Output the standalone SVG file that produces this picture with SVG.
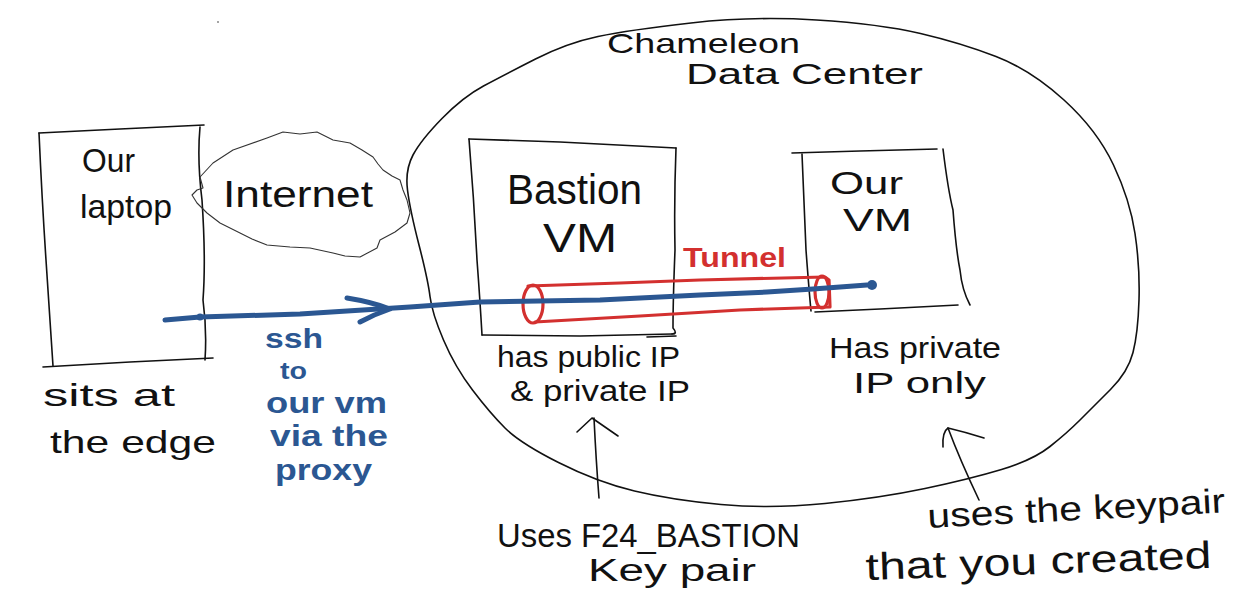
<svg xmlns="http://www.w3.org/2000/svg" width="1233" height="602" viewBox="0 0 1233 602">
<style>
.ink{fill:none;stroke:#111;stroke-width:1.6;stroke-linecap:round;stroke-linejoin:round}
.thin{fill:none;stroke:#333;stroke-width:1.1;stroke-linecap:round;stroke-linejoin:round}
.red{fill:none;stroke:#d3302f;stroke-width:3.2;stroke-linecap:round;stroke-linejoin:round}
.blue{fill:none;stroke:#2b5792;stroke-width:5;stroke-linecap:round;stroke-linejoin:round}
.t{font-family:"Liberation Sans","DejaVu Sans",sans-serif;fill:#111}
.bt{font-family:"Liberation Sans","DejaVu Sans",sans-serif;fill:#2b5792;font-weight:bold}
.rt{font-family:"Liberation Sans","DejaVu Sans",sans-serif;fill:#d3302f;font-weight:bold}
</style>
<rect width="1233" height="602" fill="#fff"/>
<circle cx="218" cy="22" r="0.8" fill="#333"/>

<g id="datacenter">
<path class="ink" d="M407.5,190 Q405,170 413,155 Q421,140 442,118.5 Q463,97 483.5,86 Q504,75 535.5,59 Q567,43 598,36.5 Q629,30 691,23 Q753,16 816.5,20 Q880,24 920.5,33.5 Q961,43 996,56.5 Q1031,70 1064,100 Q1097,130 1113.5,165 Q1130,200 1135,233.5 Q1140,267 1139,300 Q1138,333 1133,352.5 Q1128,372 1110.5,389.5 Q1093,407 1080,420 Q1067,433 1050,446.5 Q1033,460 1001.5,469.5 Q970,479 925,488.5 Q880,498 825,503.5 Q770,509 721,504.5 Q672,500 634.5,491 Q597,482 558.5,462.5 Q520,443 505,428 Q490,413 472.5,390 Q455,367 443.5,340 Q432,313 430,296.5 Q428,280 419,245 Q410,210 407.5,190 Z"/>
<text class="t" x="607" y="53" font-size="28" textLength="193" lengthAdjust="spacingAndGlyphs">Chameleon</text>
<text class="t" x="686" y="84" font-size="29" textLength="237" lengthAdjust="spacingAndGlyphs">Data Center</text>
</g>

<g id="laptop">
<path class="ink" d="M39,133 L120,129 L204,125"/>
<path class="ink" d="M39,133 Q42,200 46,260 Q50,320 53,366"/>
<path class="ink" d="M200,127 Q197,160 202,200 Q206,260 203,300 Q207,330 205,360"/>
<path class="ink" d="M43,367 L130,362 L213,358"/>
<text class="t" x="82" y="172" font-size="34" textLength="53" lengthAdjust="spacingAndGlyphs">Our</text>
<text class="t" x="80" y="218" font-size="34" textLength="92" lengthAdjust="spacingAndGlyphs">laptop</text>
<text class="t" x="43" y="406" font-size="32" textLength="132" lengthAdjust="spacingAndGlyphs">sits at</text>
<text class="t" x="50" y="453" font-size="32" textLength="166" lengthAdjust="spacingAndGlyphs">the edge</text>
</g>

<g id="internet">
<path class="thin" d="M200,177 L213,163 L233,150 L267,138 L283,132 L300,134 L317,132 L333,140 L350,143 L362,150 L373,157 L378,164 L383,170 L392,176 L400,180 L403,190 L407,200 L410,213 L407,223 L395,232 L380,240 L377,248 L360,257 L345,256 L333,253 L310,248 L290,247 L267,245 L252,239 L240,233 L220,223 L207,213 L197,203 L192,195 L197,190 L203,188 L200,177"/>
<text class="t" x="223" y="207" font-size="36" textLength="150" lengthAdjust="spacingAndGlyphs">Internet</text>
</g>

<g id="bastion">
<path class="ink" d="M469,139 L560,142 L676,148"/>
<path class="ink" d="M469,139 Q474,200 477,260 Q480,300 482,335"/>
<path class="ink" d="M676,148 Q674,200 675,250 Q673,300 673,328 Q678,334 672,334"/>
<path class="ink" d="M482,335 L580,336 L672,334"/>
<path class="ink" d="M647,337 L676,336"/>
<text class="t" x="507" y="204" font-size="42" textLength="135" lengthAdjust="spacingAndGlyphs">Bastion</text>
<text class="t" x="543" y="252" font-size="40" textLength="74" lengthAdjust="spacingAndGlyphs">VM</text>
<text class="t" x="497" y="367" font-size="29" textLength="183" lengthAdjust="spacingAndGlyphs">has public IP</text>
<text class="t" x="510" y="401" font-size="29" textLength="180" lengthAdjust="spacingAndGlyphs">&amp; private IP</text>
<text class="t" x="497" y="547" font-size="33" textLength="303" lengthAdjust="spacingAndGlyphs">Uses F24_BASTION</text>
<text class="t" x="588" y="581" font-size="31" textLength="168" lengthAdjust="spacingAndGlyphs">Key pair</text>
</g>

<g id="ourvm">
<path class="ink" d="M792,153 L860,151 L937,149"/>
<path class="ink" d="M802,154 Q804,200 806,250 Q809,290 811,311"/>
<path class="ink" d="M943,149 Q948,190 953,210 Q956,250 960,270 Q962,290 970,305"/>
<path class="ink" d="M815,312 L880,309 L958,305"/>
<text class="t" x="830" y="194" font-size="32" textLength="73" lengthAdjust="spacingAndGlyphs">Our</text>
<text class="t" x="843" y="231" font-size="32" textLength="69" lengthAdjust="spacingAndGlyphs">VM</text>
<text class="t" x="829" y="358" font-size="30" textLength="172" lengthAdjust="spacingAndGlyphs">Has private</text>
<text class="t" x="853" y="393" font-size="30" textLength="133" lengthAdjust="spacingAndGlyphs">IP only</text>
<text class="t" x="928" y="528" font-size="34" textLength="298" lengthAdjust="spacingAndGlyphs" transform="rotate(-3 928 528)">uses the keypair</text>
<text class="t" x="866" y="580" font-size="38" textLength="346" lengthAdjust="spacingAndGlyphs" transform="rotate(-2 866 580)">that you created</text>
</g>

<g id="tunnel">
<path class="red" d="M528,286 L620,283 L700,280 L825,277 L829,280 L830,307 L740,310 L640,316 L535,322"/>
<ellipse class="red" cx="533" cy="304" rx="10" ry="19"/>
<ellipse class="red" cx="822" cy="292" rx="7" ry="16"/>
<text class="rt" x="683" y="267" font-size="27" textLength="103" lengthAdjust="spacingAndGlyphs">Tunnel</text>
</g>

<g id="connectors">
<path class="blue" d="M165,320 L200,317 L300,314 L410,307 L480,302 L600,300 L700,295 L767,292 L813,289 L867,285"/>
<circle cx="872" cy="285" r="5" fill="#2b5792"/>
<circle cx="200" cy="317" r="3.5" fill="#2b5792"/>
<path class="blue" d="M347,298 Q372,302 390,309 Q375,314 360,322"/>
<path class="ink" d="M599,498 Q596,460 594,418"/>
<path class="ink" d="M577,432 L592,418 L618,436"/>
<path class="ink" d="M979,500 Q960,460 948,428"/>
<path class="ink" d="M943,447 Q942,432 948,428 Q965,432 984,438"/>
</g>

<g id="ssh-label">
<text class="bt" x="265" y="348" font-size="27" textLength="58" lengthAdjust="spacingAndGlyphs">ssh</text>
<text class="bt" x="280" y="379" font-size="23" textLength="27" lengthAdjust="spacingAndGlyphs">to</text>
<text class="bt" x="266" y="413" font-size="30" textLength="121" lengthAdjust="spacingAndGlyphs">our vm</text>
<text class="bt" x="270" y="446" font-size="30" textLength="118" lengthAdjust="spacingAndGlyphs">via the</text>
<text class="bt" x="275" y="480" font-size="30" textLength="97" lengthAdjust="spacingAndGlyphs">proxy</text>
</g>
</svg>
